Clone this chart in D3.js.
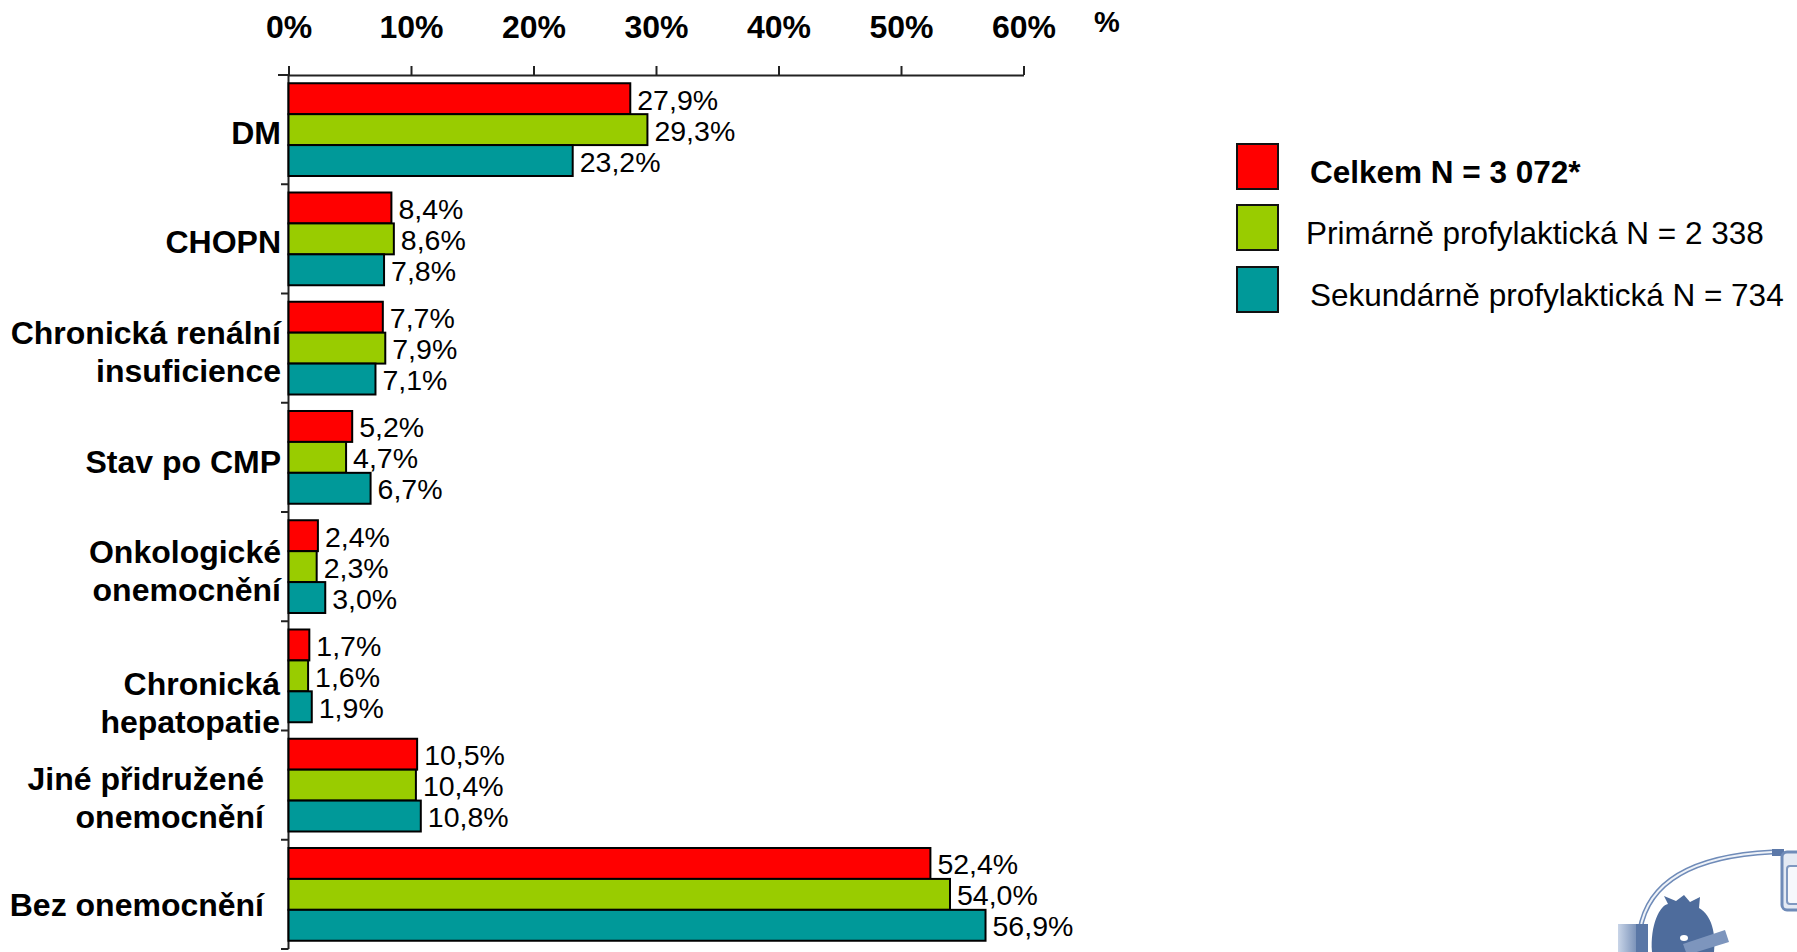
<!DOCTYPE html>
<html lang="cs">
<head>
<meta charset="utf-8">
<script src="https://cdn.jsdelivr.net/npm/d3@7"></script>
<style>
  html, body { margin: 0; padding: 0; background: #fff; }
  svg { display: block; font-family: "Liberation Sans", Arial, Helvetica, sans-serif; }
</style>
</head>
<body>
<svg id="chart" width="1797" height="952"></svg>
<script>
// Přidružená onemocnění podle typu profylaxe (%)
const categories = [
  "DM",
  "CHOPN",
  "Chronická renální\ninsuficience",
  "Stav po CMP",
  "Onkologické\nonemocnění",
  "Chronická\nhepatopatie",
  "Jiné přidružené\nonemocnění",
  "Bez onemocnění"
];
const seriesNames = [
  "Celkem N = 3 072*",
  "Primárně profylaktická N = 2 338",
  "Sekundárně profylaktická N = 734"
];
const celkem     = [27.9, 8.4, 7.7, 5.2, 2.4, 1.7, 10.5, 52.4];
const primarni   = [29.3, 8.6, 7.9, 4.7, 2.3, 1.6, 10.4, 54.0];
const sekundarni = [23.2, 7.8, 7.1, 6.7, 3.0, 1.9, 10.8, 56.9];
const xTicks = [0, 10, 20, 30, 40, 50, 60];
const axisUnit = "%";

const seriesValues = [celkem, primarni, sekundarni];
const colors = ["#ff0000", "#99cc00", "#009999"];

const svg = d3.select("#chart");
const fmt = v => v.toFixed(1).replace(".", ",") + "%";

// scales
const x = d3.scaleLinear().domain([0, 60]).range([288.5, 1023.5]);
const y0 = d3.scaleBand().domain(d3.range(categories.length))
  .range([75, 949]).paddingInner(0.151).paddingOuter(0.0755);
const y1 = d3.scaleBand().domain(d3.range(seriesNames.length))
  .range([0, y0.bandwidth()]);

// top axis
const axis = d3.axisTop(x).tickValues(xTicks).tickSize(9).tickSizeOuter(0)
  .tickPadding(28).tickFormat(d => d + "%");
const gAxis = svg.append("g").attr("transform", "translate(0,75)").call(axis);
gAxis.select(".domain").attr("stroke", "#222").attr("stroke-width", 2);
gAxis.selectAll(".tick line").attr("stroke", "#222").attr("stroke-width", 2);
gAxis.selectAll(".tick text")
  .attr("fill", "#000").attr("font-size", 32).attr("font-weight", "bold")
  .attr("font-family", "'Liberation Sans', Arial, sans-serif");

svg.append("text").attr("x", 1107).attr("y", 32).attr("text-anchor", "middle")
  .attr("font-size", 29).attr("font-weight", "bold").text(axisUnit);

// left axis with ticks at band boundaries
const step = y0.step();
const bounds = d3.range(categories.length + 1).map(i => 75 + i * step);
svg.append("line").attr("x1", 288.5).attr("x2", 288.5)
  .attr("y1", 75).attr("y2", bounds[bounds.length - 1])
  .attr("stroke", "#222").attr("stroke-width", 2);
svg.selectAll("line.ctick").data(bounds).join("line").attr("class", "ctick")
  .attr("x1", (d, i) => i === 0 ? 278 : 281).attr("x2", 288.5)
  .attr("y1", d => d).attr("y2", d => d)
  .attr("stroke", "#222").attr("stroke-width", 2);

// bars
const groups = svg.selectAll("g.cat").data(categories).join("g")
  .attr("class", "cat")
  .attr("transform", (d, i) => `translate(0,${y0(i)})`);

groups.each(function(c, ci) {
  const g = d3.select(this);
  const rows = seriesValues.map((vals, si) => ({ si, v: vals[ci] }));
  g.selectAll("rect").data(rows).join("rect")
    .attr("x", x(0))
    .attr("y", d => y1(d.si))
    .attr("width", d => x(d.v) - x(0))
    .attr("height", y1.bandwidth())
    .attr("fill", d => colors[d.si])
    .attr("stroke", "#000").attr("stroke-width", 2);
  g.selectAll("text.val").data(rows).join("text").attr("class", "val")
    .attr("x", d => x(d.v) + 7)
    .attr("y", d => y1(d.si) + y1.bandwidth() / 2 + 1)
    .attr("dy", "0.35em")
    .attr("font-size", 28.5)
    .attr("fill", "#000")
    .text(d => fmt(d.v));
});

// category labels (small per-row nudges to follow the slide's text boxes)
const labelNudge = [
  { right: 281, dy: 3 }, { right: 281, dy: 3 }, { right: 281, dy: 3 },
  { right: 281, dy: 4 }, { right: 281, dy: 4 }, { right: 280, dy: 27 },
  { right: 264, dy: 12 }, { right: 264, dy: 10 }
];
const lineGap = 38;
categories.forEach((c, i) => {
  const lines = c.split("\n");
  const cy = y0(i) + y0.bandwidth() / 2 + labelNudge[i].dy;
  const t = svg.append("text")
    .attr("text-anchor", "end")
    .attr("font-size", 32)
    .attr("font-weight", "bold")
    .attr("fill", "#000");
  lines.forEach((ln, li) => {
    t.append("tspan")
      .attr("x", labelNudge[i].right)
      .attr("y", cy + (li - (lines.length - 1) / 2) * lineGap)
      .attr("dy", "0.36em")
      .text(ln);
  });
});

// legend
const legend = svg.append("g");
const legendTop = [144, 205, 267];
seriesNames.forEach((name, i) => {
  legend.append("rect")
    .attr("x", 1237).attr("y", legendTop[i])
    .attr("width", 41).attr("height", 45)
    .attr("fill", colors[i]).attr("stroke", "#111").attr("stroke-width", 2);
  legend.append("text")
    .attr("x", i === 1 ? 1306 : 1310)
    .attr("y", legendTop[i] + 28)
    .attr("dy", "0.35em")
    .attr("font-size", 31.5)
    .attr("font-weight", i === 0 ? "bold" : "normal")
    .attr("fill", "#000")
    .text(name);
});

// corner logo: heart with lead and implanted device
const logo = svg.append("g");
const defs = svg.append("defs");
const lg = defs.append("linearGradient").attr("id", "vessel").attr("x1", 0).attr("x2", 1);
lg.append("stop").attr("offset", 0).attr("stop-color", "#c9d5e8");
lg.append("stop").attr("offset", 1).attr("stop-color", "#5a77a6");
logo.append("path")
  .attr("d", "M1640,930 Q1652,858 1772,852")
  .attr("fill", "none").attr("stroke", "#6f8bb8").attr("stroke-width", 5);
logo.append("path")
  .attr("d", "M1640,930 Q1652,858 1772,852")
  .attr("fill", "none").attr("stroke", "#eef2f8").attr("stroke-width", 2);
logo.append("rect").attr("x", 1772).attr("y", 849).attr("width", 12).attr("height", 7)
  .attr("fill", "#5b78a8");
logo.append("rect").attr("x", 1782).attr("y", 852).attr("width", 24).attr("height", 58)
  .attr("rx", 5).attr("fill", "#e4eaf4").attr("stroke", "#6f8bb8").attr("stroke-width", 3);
logo.append("rect").attr("x", 1787).attr("y", 866).attr("width", 20).attr("height", 38)
  .attr("rx", 3).attr("fill", "#f6f8fc").attr("stroke", "#7f98c0").attr("stroke-width", 2);
logo.append("rect").attr("x", 1618).attr("y", 924).attr("width", 26).attr("height", 30)
  .attr("fill", "url(#vessel)");
logo.append("path")
  .attr("d", "M1652,952 C1650,925 1660,905 1668,904 L1664,896 L1676,901 L1684,895 L1690,902 L1700,897 L1699,908 C1712,915 1716,935 1714,952 Z")
  .attr("fill", "#4e6c9c");
logo.append("rect").attr("x", 1636).attr("y", 924).attr("width", 12).attr("height", 30)
  .attr("fill", "#5a77a6");
logo.append("path")
  .attr("d", "M1683,944 L1725,930 L1729,942 L1687,955 Z")
  .attr("fill", "#7d95bd");
logo.append("ellipse").attr("cx", 1684).attr("cy", 938).attr("rx", 4).attr("ry", 3)
  .attr("fill", "#fff");
</script>
</body>
</html>
